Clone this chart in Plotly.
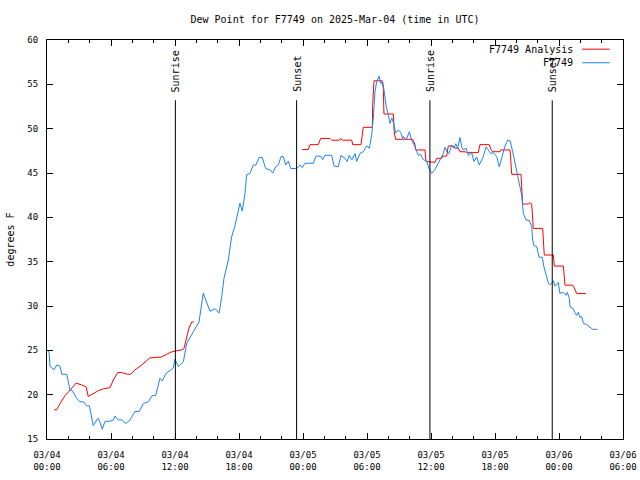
import plotly.graph_objects as go
import pandas as pd

# ---------------- data ----------------
base_time = "2025-03-04 00:00"

obs_hours = [0.00, 0.19, 0.28, 0.66, 0.91, 1.22, 1.38, 1.85, 2.16, 2.37, 2.78, 3.09, 3.40, 3.72, 3.97,
             4.10, 4.34, 4.66, 4.81, 4.97, 5.18, 5.44, 5.91, 6.22, 6.38, 6.68, 7.00, 7.41, 7.78, 8.25,
             8.65, 9.03, 9.50, 9.87, 10.19, 10.59, 10.81, 11.16, 11.53, 11.84, 12.00, 12.31, 12.78,
             13.10, 13.72, 14.25, 14.65, 15.28, 15.75, 16.13, 16.38, 16.59, 17.00, 17.31, 17.63, 17.88,
             18.09, 18.31, 18.56, 18.72, 19.03, 19.34, 19.59, 19.88, 20.18, 20.50, 20.91, 21.16, 21.44,
             21.68, 21.94, 22.15, 22.38, 22.62, 22.85, 23.41, 23.72, 23.93, 24.19, 24.97, 25.22, 25.66,
             25.85, 26.06, 26.69, 26.91, 27.31, 27.56, 27.94, 28.15, 28.34, 28.57, 28.88, 29.03, 29.34,
             29.65, 29.97, 30.22, 30.44, 30.59, 30.75, 30.91, 31.13, 31.28, 31.47, 31.59, 31.78, 32.00,
             32.16, 32.32, 32.47, 32.69, 32.93, 33.16, 33.40, 33.72, 33.97, 34.19, 34.50, 34.81, 35.03,
             35.28, 35.60, 35.81, 36.06, 36.38, 36.68, 36.84, 37.00, 37.15, 37.31, 37.53, 37.69, 37.94,
             38.16, 38.32, 38.50, 38.72, 38.88, 39.03, 39.28, 39.50, 39.81, 40.03, 40.28, 40.53, 40.90,
             41.16, 41.37, 41.60, 41.84, 42.16, 42.40, 42.63, 42.94, 43.19, 43.41, 43.66, 43.88, 44.09,
             44.28, 44.50, 44.66, 44.91, 45.22, 45.44, 45.53, 45.66, 45.91, 46.13, 46.43, 46.59, 46.85,
             47.00, 47.16, 47.32, 47.47, 47.63, 47.78, 47.93, 48.09, 48.31, 48.50, 48.66, 48.78, 48.97,
             49.03, 49.28, 49.50, 49.66, 49.81, 49.97, 50.13, 50.28, 50.59, 50.91, 51.16, 51.59]
obs_dewpoint = [25.0, 24.85, 23.2, 22.8, 23.35, 23.2, 22.3, 22.3, 20.5, 20.45, 19.6, 19.2, 19.2, 18.75, 18.75,
                17.9, 16.5, 17.15, 17.35, 16.85, 16.1, 17.0, 17.0, 17.15, 17.6, 17.15, 17.15, 16.75, 17.15, 18.1,
                18.1, 19.0, 19.2, 19.9, 19.9, 21.85, 21.55, 22.4, 22.7, 23.0, 24.0, 23.15, 23.7,
                25.8, 27.1, 28.2, 31.45, 29.4, 29.7, 29.2, 31.05, 33.1, 35.2, 37.8, 39.1, 40.45,
                41.6, 40.7, 42.7, 44.8, 44.95, 45.9, 45.9, 46.75, 46.75, 45.5, 45.35, 45.0, 45.7,
                45.9, 46.85, 46.85, 45.9, 46.35, 45.5, 45.5, 45.9, 45.6, 46.1, 46.1, 46.9, 46.9,
                46.5, 47.0, 47.0, 45.8, 45.7, 47.0, 46.65, 46.3, 47.0, 46.5, 47.2, 46.3, 47.2,
                47.4, 48.05, 47.8, 49.3, 51.2, 54.2, 55.3, 55.9, 55.1, 55.3, 54.4, 52.7, 51.5,
                50.6, 51.2, 50.7, 49.5, 49.85, 49.6, 48.7, 48.9, 49.65, 48.7, 47.95, 47.0, 47.1,
                46.5, 46.35, 45.5, 44.95, 45.4, 46.1, 46.3, 46.85, 47.2, 47.9, 47.3, 47.2, 48.15,
                47.8, 48.3, 47.8, 49.0, 47.9, 47.6, 47.8, 47.0, 47.3, 46.3, 46.8, 45.9, 46.85,
                47.95, 47.6, 47.2, 47.3, 46.85, 45.7, 46.85, 48.05, 48.7, 48.65, 47.4, 46.1, 44.95,
                44.0, 42.5, 40.45, 39.7, 39.65, 38.95, 37.45, 36.8, 36.7, 35.5, 35.5, 34.4, 33.3,
                32.55, 32.4, 32.55, 32.85, 32.25, 32.4, 32.65, 31.4, 31.55, 31.45, 31.2, 31.55, 30.85,
                29.9, 29.75, 29.25, 28.95, 29.3, 28.7, 28.8, 28.05, 27.9, 27.6, 27.37, 27.37]

ana_hours = [0.66, 0.91, 1.22, 1.69, 2.16, 2.72, 3.25, 3.66, 3.87, 4.34, 4.81, 5.28, 5.91, 6.22, 6.63,
             7.00, 7.53, 7.85, 8.25, 8.72, 9.19, 9.66, 10.28, 10.75, 11.22, 11.63, 12.16, 12.63, 12.84,
             13.10, 13.31, 13.57, 13.78, None,
             23.93, 24.50, 24.66, 25.43, 25.66, 26.53, 26.69, 27.40, 27.53, 27.68, 28.57, 28.66, 29.44,
             29.65, 30.50, 30.53, 30.66, 31.43, 31.53, 31.59, 32.47, 32.56, 32.69, 33.31, 33.40, 33.63,
             34.28, 34.50, 34.56, 35.44, 35.53, 36.38, 36.53, 37.00, 37.09, 37.47, 37.62, 38.09, 38.25,
             38.56, 38.72, 39.19, 39.34, 40.43, 40.59, 41.46, 41.62, 41.78, 42.47, 42.56, 43.41, 43.57,
             44.44, 44.59, 45.12, 45.28, 45.44, 45.59, 46.47, 46.59, 46.62, 47.47, 47.56, 48.41, 48.56,
             49.28, 49.41, 49.66, 50.53]
ana_dewpoint = [18.3, 18.3, 19.0, 19.9, 20.5, 21.3, 21.1, 20.9, 19.8, 20.15, 20.45, 20.65, 20.8, 21.65, 22.5,
                22.5, 22.3, 22.3, 22.8, 23.2, 23.65, 24.15, 24.2, 24.25, 24.55, 24.8, 24.95, 25.05, 25.2,
                26.55, 27.5, 28.2, 28.2, None,
                47.65, 47.65, 48.2, 48.2, 48.9, 48.9, 48.7, 48.7, 48.9, 48.7, 48.7, 48.2, 48.2,
                50.15, 50.15, 52.7, 55.4, 55.4, 54.55, 51.65, 51.65, 49.5, 48.8, 48.8, 49.1, 48.8,
                48.8, 48.2, 47.6, 47.6, 46.3, 46.2, 46.65, 46.65, 46.9, 46.9, 48.05, 48.05, 47.8,
                47.8, 47.4, 47.4, 47.3, 47.3, 48.2, 48.2, 47.65, 47.4, 47.4, 47.6, 47.6, 44.85,
                44.85, 41.5, 41.5, 41.65, 41.5, 38.75, 38.75, 36.5, 35.75, 35.75, 34.5, 34.5, 32.35,
                32.35, 32.1, 31.4, 31.4]

event_labels = ["Sunrise", "Sunset", "Sunrise", "Sunset"]
event_times = ["2025-03-04 12:02", "2025-03-04 23:24", "2025-03-05 11:54", "2025-03-05 23:22"]

series_names = ["F7749 Analysis", "F7749"]
series_colors = ["#ff0000", "#1a84f0"]

# ---------------- figure ----------------
t0 = pd.Timestamp(base_time)


def to_time(hours):
    return [None if h is None else t0 + pd.Timedelta(hours=h) for h in hours]


FONT = "DejaVu Sans Mono"
FS = 10
TFS = 9

fig = go.Figure()
fig.add_trace(go.Scatter(x=to_time(ana_hours), y=ana_dewpoint, mode="lines",
                         line=dict(color=series_colors[0], width=1), connectgaps=False,
                         name=series_names[0], showlegend=False))
fig.add_trace(go.Scatter(x=to_time(obs_hours), y=obs_dewpoint, mode="lines",
                         line=dict(color=series_colors[1], width=1),
                         name=series_names[1], showlegend=False))

for lab, t in zip(event_labels, event_times):
    fig.add_shape(type="line", xref="x", yref="y", x0=t, x1=t, y0=15, y1=53.2,
                  line=dict(color="black", width=1))
    fig.add_annotation(x=t, y=53.9, xref="x", yref="y", text=lab, textangle=-90,
                       showarrow=False, xanchor="center", yanchor="bottom",
                       font=dict(family=FONT, size=FS, color="black"))

# manual gnuplot-style legend (text left of sample)
leg_y = [0.977, 0.943]
for name, col, yy in zip(series_names, series_colors, leg_y):
    fig.add_annotation(x=0.916, y=yy, xref="paper", yref="paper", text=name, showarrow=False,
                       xanchor="right", yanchor="middle", font=dict(family=FONT, size=FS, color="black"))
    fig.add_shape(type="line", xref="paper", yref="paper", x0=0.929, x1=0.977, y0=yy, y1=yy,
                  line=dict(color=col, width=1))

# y-axis title as rotated annotation (gnuplot style)
fig.add_annotation(x=-0.064, y=0.5, xref="paper", yref="paper", text="degrees F", textangle=-90,
                   showarrow=False, xanchor="center", yanchor="middle",
                   font=dict(family=FONT, size=FS, color="black"))

fig.update_layout(
    width=640, height=480,
    margin=dict(l=47, r=17, t=40, b=41),
    paper_bgcolor="white", plot_bgcolor="white",
    font=dict(family=FONT, size=FS, color="black"),
    title=dict(text="Dew Point for F7749 on 2025-Mar-04 (time in UTC)", x=0.5, xref="paper",
               y=0.96, yref="container", xanchor="center", yanchor="middle",
               font=dict(family=FONT, size=FS, color="black")),
    showlegend=False,
)
fig.update_xaxes(
    type="date", range=["2025-03-04 00:00", "2025-03-06 06:00"], automargin=False,
    tick0="2025-03-04 00:00", dtick=6 * 3600 * 1000, tickformat="%m/%d<br>%H:%M",
    ticks="inside", ticklen=6, tickcolor="black", showgrid=False, zeroline=False,
    showline=True, linecolor="black", linewidth=1, mirror="ticks", ticklabelstandoff=7,
    minor=dict(dtick=2 * 3600 * 1000, ticks="inside", ticklen=3, tickcolor="black", showgrid=False),
    tickfont=dict(family=FONT, size=TFS),
)
fig.update_yaxes(
    range=[15, 60], dtick=5, ticks="inside", ticklen=6, tickcolor="black", automargin=False,
    showgrid=False, zeroline=False, showline=True, linecolor="black", linewidth=1, mirror="ticks",
    ticklabelstandoff=6, tickfont=dict(family=FONT, size=TFS),
)

fig.write_html("out.html", config={"displayModeBar": False},
               post_script="document.body.style.margin='0';document.body.style.overflow='hidden';")
